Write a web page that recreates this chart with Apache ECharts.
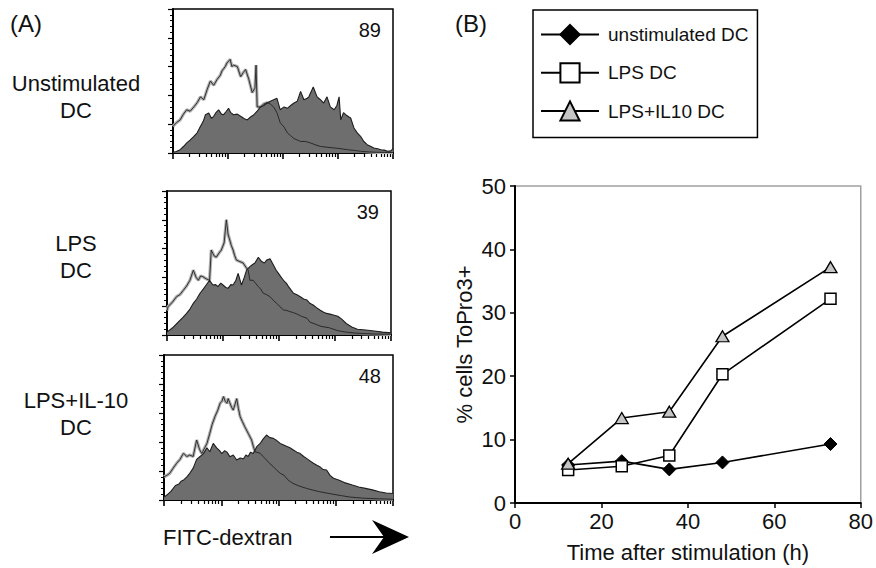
<!DOCTYPE html>
<html><head><meta charset="utf-8">
<script src="https://cdn.jsdelivr.net/npm/echarts@6/dist/echarts.min.js"></script>
<style>html,body{margin:0;padding:0;background:#fff}#c{width:876px;height:568px}</style>
</head><body><div id="c"></div>
<script>
// ---------- Panel A: histograms (x in log10 decades of FITC-dextran, y in % of full scale) ----------
const histCounts = ['89', '39', '48'];
const histLabels = ['Unstimulated\nDC', 'LPS\nDC', 'LPS+IL-10\nDC'];

const h1Open = [[0,18.5],[0.06,21],[0.13,23],[0.19,27],[0.25,30],[0.31,29],[0.38,32],[0.44,35],[0.5,39],[0.56,37],[0.62,44],[0.68,50],[0.74,47],[0.8,51],[0.86,54],[0.89,57],[0.95,60],[0.98,62.5],[1.04,65],[1.07,60],[1.1,61],[1.17,60],[1.23,53],[1.28,56],[1.32,58],[1.38,51],[1.44,42],[1.49,45],[1.51,61],[1.53,32],[1.59,32],[1.65,34],[1.71,35],[1.77,34],[1.83,32],[1.89,28],[1.95,21],[2.02,18],[2.08,14],[2.14,12],[2.2,10],[2.32,8],[2.41,8],[2.5,7],[2.6,5.5],[2.68,4.6],[2.8,4],[2.93,3.5],[3.05,3],[3.17,2.3],[3.3,1.8],[3.41,1.2],[3.55,0.8],[3.71,0.5],[3.85,0.4],[4,0.3]];
const h1Fill = [[0,0.5],[0.06,1],[0.13,2.3],[0.19,4.5],[0.25,7],[0.31,9],[0.38,11.6],[0.44,14],[0.5,18.5],[0.55,22],[0.59,26.6],[0.65,27.8],[0.7,24],[0.74,25.5],[0.78,28],[0.83,30],[0.88,27],[0.92,26.6],[0.97,29],[1.01,31],[1.05,28],[1.1,26.6],[1.17,27],[1.23,25.5],[1.29,24],[1.35,23],[1.41,25],[1.47,26.6],[1.53,29],[1.59,32],[1.65,33],[1.71,34.7],[1.77,36],[1.83,37],[1.89,38],[1.95,30],[2.02,32],[2.08,31],[2.14,33],[2.2,34.7],[2.26,36],[2.32,42.8],[2.38,37],[2.44,38],[2.47,39],[2.55,45.8],[2.62,39],[2.68,37],[2.74,34.7],[2.8,39],[2.86,32],[2.93,30],[2.98,33],[3.02,39],[3.05,23],[3.1,28],[3.14,26.6],[3.2,25],[3.23,24.3],[3.29,17.4],[3.35,14],[3.41,11.6],[3.47,8],[3.53,5.8],[3.6,4.5],[3.65,3.5],[3.72,3],[3.78,2.3],[3.84,2],[3.9,1.2],[3.96,1.5],[4,3]];

const h2Open = [[0,17],[0.02,19.7],[0.1,23],[0.17,26.6],[0.23,28],[0.29,31],[0.35,34],[0.41,38],[0.47,45],[0.52,40],[0.56,38],[0.6,41],[0.64,40.5],[0.7,39],[0.76,38],[0.79,59],[0.84,55],[0.88,54],[0.93,57],[0.97,59],[1.02,64],[1.06,80],[1.09,70],[1.12,66],[1.15,62],[1.18,59],[1.21,55],[1.24,52],[1.3,51],[1.36,50],[1.41,47],[1.45,45],[1.48,38],[1.54,38],[1.58,36],[1.63,33.6],[1.67,32],[1.72,29],[1.78,28],[1.84,26.6],[1.9,24],[1.96,22],[2.02,19.5],[2.08,17.4],[2.14,17],[2.2,16.2],[2.26,15.5],[2.32,14.6],[2.4,13],[2.5,11.6],[2.55,9],[2.65,7.5],[2.75,6],[2.9,5],[3.05,3],[3.2,2],[3.35,1.4],[3.5,1],[3.7,0.7],[4,0.5]];
const h2Fill = [[0,2],[0.1,5],[0.2,9],[0.28,12],[0.35,15],[0.41,18],[0.47,22],[0.53,25],[0.59,29],[0.65,32],[0.7,34.7],[0.76,38],[0.82,34.7],[0.87,35],[0.91,33.6],[0.96,36],[1.0,34.7],[1.05,33],[1.09,32.4],[1.14,35],[1.18,34.7],[1.23,38],[1.27,42.8],[1.33,34.7],[1.38,40],[1.42,45],[1.48,47.5],[1.53,49],[1.57,50],[1.63,54],[1.69,51],[1.74,50],[1.78,52],[1.84,53],[1.9,48.6],[1.95,45],[1.99,42.8],[2.04,40],[2.08,38],[2.13,36],[2.17,33.6],[2.22,31],[2.26,29],[2.32,28],[2.38,26.6],[2.44,25],[2.5,24.3],[2.55,22],[2.61,20.8],[2.67,19],[2.73,17.4],[2.79,16],[2.85,15],[2.91,14.5],[2.97,13.9],[3.05,13],[3.12,11],[3.2,8],[3.3,5.5],[3.4,4],[3.55,3.5],[3.7,2.8],[3.85,2],[4,1.5]];

const h3Open = [[0,16],[0.05,17],[0.1,18.4],[0.16,22],[0.22,25.3],[0.28,28],[0.34,32.2],[0.4,30],[0.45,31],[0.51,30],[0.57,41.4],[0.62,35],[0.66,32],[0.71,36],[0.75,39],[0.8,46],[0.84,52],[0.89,57.5],[0.94,62],[0.98,66.7],[1.01,68],[1.04,71.3],[1.07,68],[1.1,66.7],[1.12,70],[1.15,67],[1.18,64],[1.21,62],[1.24,66],[1.27,69.9],[1.3,63],[1.33,57.5],[1.37,54],[1.41,50.6],[1.47,46],[1.53,41.4],[1.56,37],[1.59,33.3],[1.68,32.2],[1.73,30],[1.79,27.6],[1.85,25],[1.91,23],[1.97,20.5],[2.03,18.4],[2.1,17],[2.16,14],[2.25,11.5],[2.37,9.5],[2.49,8],[2.6,6.8],[2.72,5.7],[2.84,4.8],[2.95,4],[3.1,3],[3.25,2],[3.5,1.2],[3.77,0.8],[4,0.5]];
const h3Fill = [[0,2],[0.05,3.4],[0.12,6],[0.2,10],[0.26,11],[0.3,13],[0.35,14],[0.4,16],[0.45,18.4],[0.51,22],[0.57,28],[0.63,30],[0.69,32],[0.75,36],[0.8,33.3],[0.86,39],[0.92,36],[0.97,34],[1.01,32],[1.06,34],[1.1,33],[1.15,29.9],[1.21,31],[1.27,27.6],[1.33,29],[1.39,28.5],[1.43,31],[1.47,30],[1.51,33],[1.56,32],[1.62,36.8],[1.68,39],[1.73,42],[1.79,44.8],[1.85,43],[1.91,42.5],[1.97,41],[2.03,39],[2.09,38],[2.14,37],[2.2,36],[2.26,34.5],[2.32,33],[2.38,32],[2.44,30],[2.49,28.7],[2.55,27],[2.61,25.3],[2.67,24],[2.72,23],[2.78,21],[2.84,20.7],[2.9,17],[2.96,15],[3.05,13.8],[3.15,12],[3.29,10.3],[3.4,9],[3.52,8],[3.64,7],[3.76,5.7],[3.88,4.8],[4,4.5]];

const histOpen = [h1Open, h2Open, h3Open];
const histFill = [h1Fill, h2Fill, h3Fill];

// log-axis tick positions (decades and 2..9 within each decade)
const decades = [0, 1, 2, 3, 4];
const minorMult = [2, 3, 4, 5, 6, 7, 8, 9];
const minorTicks = decades.slice(0, 4).flatMap(d => minorMult.map(m => d + Math.log10(m)));

// ---------- Panel B: line chart ----------
const timeH = [12.3, 24.7, 35.7, 48, 73];
const unstimDC = [6.0, 6.6, 5.3, 6.4, 9.3];
const lpsDC = [5.2, 5.8, 7.5, 20.3, 32.2];
const lpsIl10DC = [6.2, 13.4, 14.4, 26.3, 37.2];
const seriesNames = ['unstimulated DC', 'LPS DC', 'LPS+IL10 DC'];
const xTicksB = [0, 20, 40, 60, 80];
const yTicksB = [0, 10, 20, 30, 40, 50];

const FONT = '"Liberation Sans", Arial, Helvetica, sans-serif';
const zip = (xs, ys) => xs.map((x, i) => [x, ys[i]]);

const histBoxes = [
  {left: 173, top: 9, width: 220, height: 144},
  {left: 167, top: 191, width: 224, height: 144},
  {left: 164, top: 355, width: 229, height: 145}
];
const labelCenterY = [96.5, 256.5, 413.5];

const grid = [], xAxis = [], yAxis = [], series = [], graphic = [];
histBoxes.forEach((b, i) => {
  grid.push(Object.assign({show: true, borderColor: '#000', borderWidth: 1.5, backgroundColor: 'transparent'}, b));
  xAxis.push({gridIndex: i, type: 'value', min: decades[0], max: decades[decades.length - 1], position: 'bottom',
    axisLine: {show: true, onZero: false, lineStyle: {color: '#000', width: 2}},
    axisTick: {show: true, length: 6, customValues: decades, lineStyle: {color: '#000', width: 1.6}},
    axisLabel: {show: false}, splitLine: {show: false}});
  xAxis.push({gridIndex: i, type: 'value', min: decades[0], max: decades[decades.length - 1], position: 'bottom',
    axisLine: {show: false},
    axisTick: {show: true, length: 4, customValues: minorTicks, lineStyle: {color: '#000', width: 1.2}},
    axisLabel: {show: false}, splitLine: {show: false}});
  yAxis.push({gridIndex: i, type: 'value', min: 0, max: 100, interval: 20,
    axisLine: {show: true, onZero: false, lineStyle: {color: '#000', width: 2}},
    axisTick: {show: true, length: 5, lineStyle: {color: '#000', width: 1.2}},
    minorTick: {show: true, splitNumber: 5, length: 3, lineStyle: {color: '#000', width: 1}},
    axisLabel: {show: false}, splitLine: {show: false}, minorSplitLine: {show: false}});
  // open histogram: light gray thick line (under the filled histogram)
  series.push({type: 'line', xAxisIndex: 2 * i, yAxisIndex: i, data: histOpen[i], symbol: 'none', silent: true, z: 2,
    lineStyle: {color: '#b0b0b0', width: 3.2}});
  // filled histogram
  series.push({type: 'line', xAxisIndex: 2 * i, yAxisIndex: i, data: histFill[i], symbol: 'none', silent: true, z: 3,
    lineStyle: {color: '#1e1e1e', width: 1.1}, areaStyle: {color: '#6e6e6e', opacity: 1}});
  // open histogram: thin dark core line on top
  series.push({type: 'line', xAxisIndex: 2 * i, yAxisIndex: i, data: histOpen[i], symbol: 'none', silent: true, z: 4,
    lineStyle: {color: '#222', width: 0.9}});
  graphic.push({type: 'text', z: 10, style: {text: histCounts[i], x: b.left + b.width - 12, y: b.top + 21,
    textAlign: 'right', textVerticalAlign: 'middle', font: '20px ' + FONT, fill: '#111'}});
  graphic.push({type: 'text', z: 10, style: {text: histLabels[i], x: 76, y: labelCenterY[i],
    textAlign: 'center', textVerticalAlign: 'middle', font: '22px ' + FONT, lineHeight: 27, fill: '#111'}});
});

// Panel B grid
const gB = grid.length;
grid.push({left: 515, right: 12, top: 186, bottom: 65, show: true, borderColor: '#a0a0a0', borderWidth: 1.5, backgroundColor: 'transparent'});
const xB = xAxis.length, yB = yAxis.length;
xAxis.push({gridIndex: gB, type: 'value', min: xTicksB[0], max: xTicksB[xTicksB.length - 1], interval: 20, position: 'bottom',
  name: 'Time after stimulation (h)', nameLocation: 'middle', nameGap: 38,
  nameTextStyle: {fontSize: 22, color: '#111', fontFamily: FONT},
  axisLine: {show: true, onZero: false, lineStyle: {color: '#000', width: 2}},
  axisTick: {show: true, length: 5, lineStyle: {color: '#000', width: 1.5}},
  axisLabel: {show: true, fontSize: 22, color: '#111', fontFamily: FONT, margin: 7},
  splitLine: {show: false}});
yAxis.push({gridIndex: gB, type: 'value', min: yTicksB[0], max: yTicksB[yTicksB.length - 1], interval: 10,
  name: '% cells ToPro3+', nameLocation: 'middle', nameGap: 40, nameRotate: 90,
  nameTextStyle: {fontSize: 22, color: '#111', fontFamily: FONT},
  axisLine: {show: true, onZero: false, lineStyle: {color: '#000', width: 2}},
  axisTick: {show: true, length: 5, lineStyle: {color: '#000', width: 1.5}},
  axisLabel: {show: true, fontSize: 22, color: '#111', fontFamily: FONT, margin: 9},
  splitLine: {show: false}});

const lineCommon = {type: 'line', xAxisIndex: xB, yAxisIndex: yB, lineStyle: {color: '#000', width: 1.6}, z: 5};
series.push(Object.assign({}, lineCommon, {name: seriesNames[0], data: zip(timeH, unstimDC), symbol: 'diamond', symbolSize: 13,
  itemStyle: {color: '#000', borderColor: '#000', borderWidth: 1}}));
series.push(Object.assign({}, lineCommon, {name: seriesNames[1], data: zip(timeH, lpsDC), symbol: 'rect', symbolSize: 11,
  itemStyle: {color: '#fff', borderColor: '#000', borderWidth: 1.5}}));
series.push(Object.assign({}, lineCommon, {name: seriesNames[2], data: zip(timeH, lpsIl10DC), symbol: 'triangle', symbolSize: [13, 11],
  itemStyle: {color: '#c4c4c4', borderColor: '#000', borderWidth: 1.3}}));

// panel letters, axis caption, arrow
graphic.push({type: 'text', style: {text: '(A)', x: 10, y: 23, textVerticalAlign: 'middle', font: '24px ' + FONT, fill: '#111'}});
graphic.push({type: 'text', style: {text: '(B)', x: 455, y: 23, textVerticalAlign: 'middle', font: '24px ' + FONT, fill: '#111'}});
graphic.push({type: 'text', style: {text: 'FITC-dextran', x: 163, y: 537, textVerticalAlign: 'middle', font: '22px ' + FONT, fill: '#111'}});
graphic.push({type: 'line', shape: {x1: 330, y1: 537, x2: 385, y2: 537}, style: {stroke: '#000', lineWidth: 2}});
graphic.push({type: 'polygon', shape: {points: [[409, 537], [372, 520], [384, 537], [372, 554]]}, style: {fill: '#000'}});

const option = {
  animation: false,
  backgroundColor: '#fff',
  textStyle: {fontFamily: FONT},
  grid, xAxis, yAxis, series, graphic,
  legend: {
    data: seriesNames, orient: 'vertical', left: 533, top: 10,
    borderColor: '#000', borderWidth: 1.5, padding: [14, 9, 16, 7],
    itemGap: 17, itemWidth: 58, itemHeight: 24,
    textStyle: {fontSize: 19, color: '#111', fontFamily: FONT, padding: [0, 0, 0, 4]},
    selectedMode: false
  }
};

const chart = echarts.init(document.getElementById('c'), null, {renderer: 'svg'});
chart.setOption(option);
</script>
</body></html>
